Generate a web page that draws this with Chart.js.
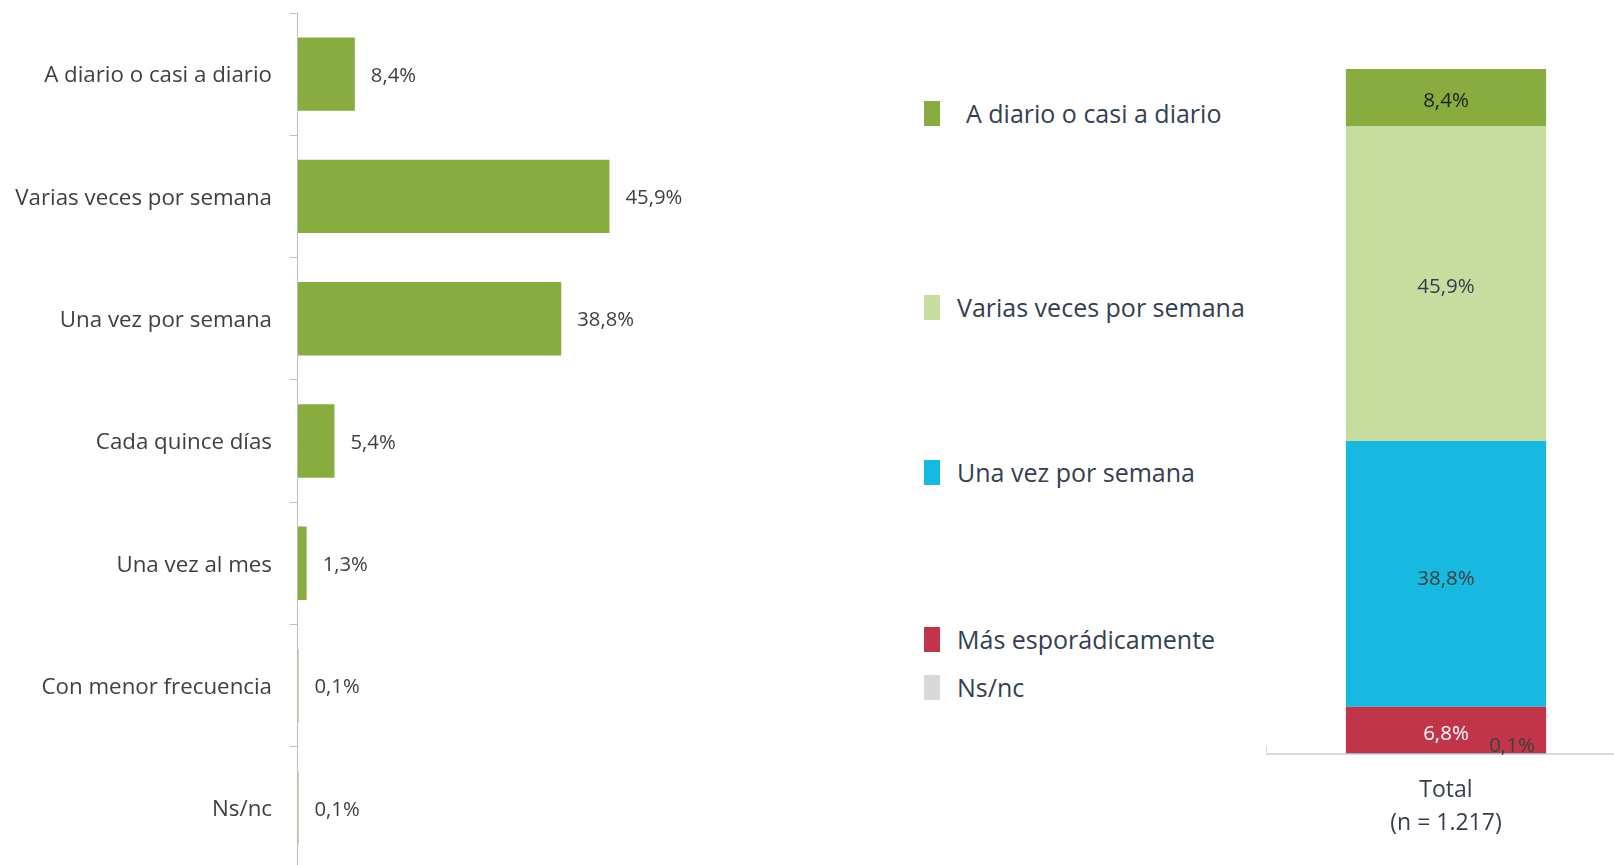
<!DOCTYPE html>
<html>
<head>
<meta charset="utf-8">
<script src="https://cdn.jsdelivr.net/npm/chart.js@4"></script>
<style>
  html, body { margin: 0; padding: 0; width: 1614px; height: 865px; overflow: hidden; background: #ffffff; }
  body { position: relative; font-family: 'Open Sans', sans-serif; }
  #wrapLeft { position: absolute; left: 0; top: 0; width: 841px; height: 869px; }
  #wrapRight { position: absolute; left: 1250px; top: 0; width: 390px; height: 865px; }
  .leg-box { position: absolute; left: 924px; width: 16px; height: 25px; }
  .leg-text { position: absolute; white-space: nowrap; font-size: 25px; line-height: 25px; color: #333f50; }
</style>
</head>
<body>
<div id="wrapLeft"><canvas id="leftChart"></canvas></div>
<div id="wrapRight"><canvas id="rightChart"></canvas></div>
<div id="legend"></div>
<script>
// ---------- DATA ----------
const categories = [
  'A diario o casi a diario',
  'Varias veces por semana',
  'Una vez por semana',
  'Cada quince días',
  'Una vez al mes',
  'Con menor frecuencia',
  'Ns/nc'
];
const frequencyValues = [8.4, 45.9, 38.8, 5.4, 1.3, 0.1, 0.1];

const totalCategory = [['Total', '(n = 1.217)']];
// stacked series, bottom to top
const stackSeriesNames = ['Ns/nc', 'Más esporádicamente', 'Una vez por semana', 'Varias veces por semana', 'A diario o casi a diario'];
const nsncTotal = [0.1];
const esporadicoTotal = [6.8];
const unaVezTotal = [38.8];
const variasTotal = [45.9];
const diarioTotal = [8.4];

// ---------- STYLES ----------
const FONT = 'Open Sans';
const fmt = v => v.toFixed(1).replace('.', ',') + '%';
const stackColors = ['#8eb4e3', '#c0354a', '#17b9e0', '#c7dd9f', '#88ac3f'];
const legendColors = ['#d9d9d9', '#c0354a', '#17b9e0', '#c7dd9f', '#88ac3f'];
const stackLabelColors = ['#404040', '#ffffff', '#404040', '#333f50', '#1f1f1f'];
const stackLabelOffsets = [[66, -8], [0, 4], [0, 5], [0, 3], [0, 3]];
// legend layout (top to bottom)
const legendCentersY = [113.5, 307.5, 472.5, 639.5, 687];
const legendTextX = [966, 957, 957, 957, 957];

// ---------- LEFT CHART ----------
const leftLabelsPlugin = {
  id: 'leftLabels',
  afterDatasetsDraw(chart) {
    const ctx = chart.ctx;
    const ds = chart.data.datasets[0];
    const meta = chart.getDatasetMeta(0);
    ctx.save();
    ctx.font = '20.3px "' + FONT + '"';
    ctx.fillStyle = '#404040';
    ctx.textAlign = 'left';
    ctx.textBaseline = 'middle';
    meta.data.forEach((bar, i) => {
      ctx.fillText(fmt(ds.data[i]), bar.x + 16, bar.y + 2);
    });
    ctx.restore();
  }
};

new Chart(document.getElementById('leftChart'), {
  type: 'bar',
  data: {
    labels: categories,
    datasets: [{
      data: frequencyValues,
      backgroundColor: '#88ac3f',
      barPercentage: 0.6,
      categoryPercentage: 1
    }]
  },
  options: {
    indexAxis: 'y',
    responsive: true,
    maintainAspectRatio: false,
    animation: false,
    layout: { padding: { top: 13, left: 0, right: 0, bottom: 0 } },
    plugins: { legend: { display: false }, tooltip: { enabled: false } },
    scales: {
      x: { display: false, min: 0, max: 80 },
      y: {
        grid: { drawOnChartArea: false, drawTicks: true, tickLength: 8, color: '#bfbfbf', offset: true },
        border: { color: '#bfbfbf', width: 1 },
        ticks: { color: '#404040', font: { family: FONT, size: 22.3 }, padding: 17.8, labelOffset: 2 },
        afterFit(s) { s.width = 297.8; s.paddingTop = 0; s.paddingBottom = 0; }
      }
    }
  },
  plugins: [leftLabelsPlugin]
});

// ---------- RIGHT CHART ----------
const stackLabelsPlugin = {
  id: 'stackLabels',
  afterDatasetsDraw(chart) {
    const ctx = chart.ctx;
    ctx.save();
    ctx.font = '20.5px "' + FONT + '"';
    ctx.textAlign = 'center';
    ctx.textBaseline = 'middle';
    chart.data.datasets.forEach((ds, i) => {
      const el = chart.getDatasetMeta(i).data[0];
      const off = stackLabelOffsets[i];
      ctx.fillStyle = stackLabelColors[i];
      ctx.fillText(fmt(ds.data[0]), el.x + off[0], (el.y + el.base) / 2 + off[1]);
    });
    ctx.restore();
  }
};

const stackData = [nsncTotal, esporadicoTotal, unaVezTotal, variasTotal, diarioTotal];
const rightChart = new Chart(document.getElementById('rightChart'), {
  type: 'bar',
  data: {
    labels: totalCategory,
    datasets: stackSeriesNames.map((name, i) => ({
      label: name,
      data: stackData[i],
      backgroundColor: stackColors[i],
      barPercentage: 0.558,
      categoryPercentage: 1
    }))
  },
  options: {
    responsive: true,
    maintainAspectRatio: false,
    animation: false,
    layout: { padding: { top: 69, left: 16.6, right: 14.6, bottom: 0 } },
    plugins: { legend: { display: false }, tooltip: { enabled: false } },
    scales: {
      x: {
        stacked: true,
        grid: { drawOnChartArea: false, drawTicks: true, tickLength: -8, color: '#d9d9d9', offset: true },
        border: { color: '#d9d9d9', width: 2 },
        ticks: { color: '#333f50', font: { family: FONT, size: 23, lineHeight: 1.42 }, padding: 28 },
        afterFit(s) { s.height = 111; s.paddingLeft = 0; s.paddingRight = 0; }
      },
      y: { display: false, stacked: true, min: 0, max: 100 }
    }
  },
  plugins: [stackLabelsPlugin]
});

// ---------- LEGEND (HTML) ----------
const legendEl = document.getElementById('legend');
const order = rightChart.data.datasets.map((d, i) => i).reverse();
order.forEach((dsIndex, k) => {
  const cy = legendCentersY[k];
  const box = document.createElement('div');
  box.className = 'leg-box';
  box.style.top = (cy - 12.5) + 'px';
  box.style.background = legendColors[dsIndex];
  const txt = document.createElement('div');
  txt.className = 'leg-text';
  txt.style.left = legendTextX[k] + 'px';
  txt.style.top = (cy - 12.5) + 'px';
  txt.textContent = rightChart.data.datasets[dsIndex].label;
  legendEl.appendChild(box);
  legendEl.appendChild(txt);
});
</script>
</body>
</html>
